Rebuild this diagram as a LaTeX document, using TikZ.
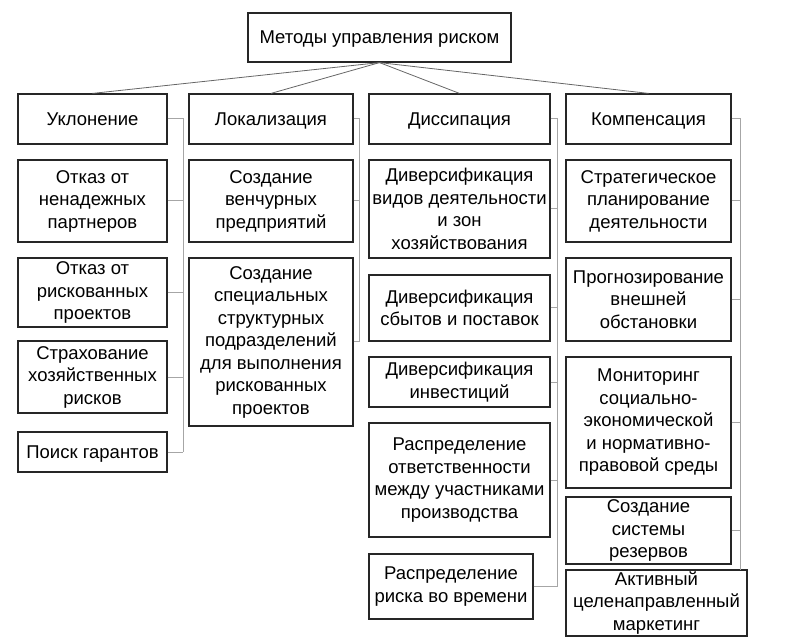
\documentclass[tikz,border=0pt]{standalone}
\usepackage{fontspec}
\setmainfont{Liberation Sans}
\begin{document}
\begin{tikzpicture}[x=1pt,y=-1pt,
  box/.style={draw=black!85, line width=1.2pt, fill=white, inner sep=0pt, align=center,
    font=\fontsize{18.5}{22.5}\selectfont},
  onebox/.style={box, text height=15pt, text depth=2pt},
  topline/.style={draw=black!60, line width=0.8pt},
  side/.style={draw=black!35, line width=1pt}]
\useasboundingbox (0,0) rectangle (798,644);
% top
\node[onebox, minimum width=263, minimum height=49] (top) at (379.5,37.5) {Методы управления риском};
% categories
\node[onebox, minimum width=149, minimum height=50] (c1) at (92.5,119) {Уклонение};
\node[onebox, minimum width=164, minimum height=50] (c2) at (271,119) {Локализация};
\node[onebox, minimum width=181, minimum height=50] (c3) at (459.5,119) {Диссипация};
\node[onebox, minimum width=165, minimum height=50] (c4) at (648.5,119) {Компенсация};
% column 1
\node[box, minimum width=149, minimum height=82] (a1) at (92.5,201) {Отказ от\\ненадежных\\партнеров};
\node[box, minimum width=149, minimum height=69] (a2) at (92.5,292.5) {Отказ от\\рискованных\\проектов};
\node[box, minimum width=149, minimum height=72] (a3) at (92.5,377) {Страхование\\хозяйственных\\рисков};
\node[onebox, minimum width=149, minimum height=40] (a4) at (92.5,452) {Поиск гарантов};
% column 2
\node[box, minimum width=164, minimum height=82] (b1) at (271,201) {Создание\\венчурных\\предприятий};
\node[box, minimum width=164, minimum height=168] (b2) at (271,342) {Создание\\специальных\\структурных\\подразделений\\для выполнения\\рискованных\\проектов};
% column 3
\node[box, minimum width=181, minimum height=98] (d1) at (459.5,209) {Диверсификация\\видов деятельности\\и зон\\хозяйствования};
\node[box, minimum width=181, minimum height=66] (d2) at (459.5,308) {Диверсификация\\сбытов и поставок};
\node[box, minimum width=181, minimum height=50] (d3) at (459.5,382) {Диверсификация\\инвестиций};
\node[box, minimum width=181, minimum height=114] (d4) at (459.5,480) {Распределение\\ответственности\\между участниками\\производства};
\node[box, minimum width=164, minimum height=65] (d5) at (451,586.5) {Распределение\\риска во времени};
% column 4
\node[box, minimum width=165, minimum height=82] (e1) at (648.5,201) {Стратегическое\\планирование\\деятельности};
\node[box, minimum width=165, minimum height=83] (e2) at (648.5,299.5) {Прогнозирование\\внешней\\обстановки};
\node[box, minimum width=165, minimum height=131] (e3) at (648.5,422.5) {Мониторинг\\социально-\\экономической\\и нормативно-\\правовой среды};
\node[box, minimum width=165, minimum height=67] (e4) at (648.5,530.5) {Создание\\системы\\резервов};
\node[box, minimum width=181, minimum height=66] (e5) at (656.5,603) {Активный\\целенаправленный\\маркетинг};
% top connectors
\foreach \c in {c1,c2,c3,c4} \draw[topline] (top.south) -- (\c.north);
% buses
\coordinate (bus1) at (183,452);
\coordinate (bus2) at (359,342);
\coordinate (bus3) at (557,586.5);
\coordinate (bus4) at (740,570);
\draw[side] (c1.east) -| (bus1);
\foreach \n in {a1,a2,a3,a4} \draw[side] (\n.east) -- (\n.east -| bus1);
\draw[side] (c2.east) -| (bus2);
\foreach \n in {b1,b2} \draw[side] (\n.east) -- (\n.east -| bus2);
\draw[side] (c3.east) -| (bus3);
\foreach \n in {d1,d2,d3,d4,d5} \draw[side] (\n.east) -- (\n.east -| bus3);
\draw[side] (c4.east) -| (bus4);
\foreach \n in {e1,e2,e3,e4} \draw[side] (\n.east) -- (\n.east -| bus4);
\end{tikzpicture}
\end{document}
